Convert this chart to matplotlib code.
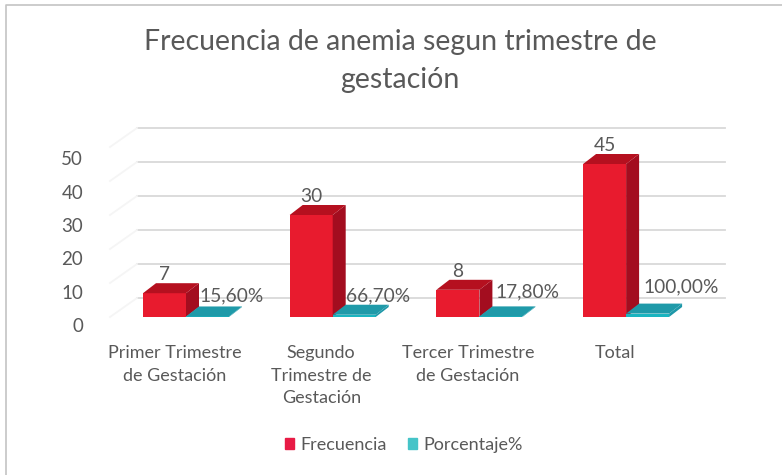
import numpy as np
import matplotlib
matplotlib.use("Agg")
import matplotlib.pyplot as plt
from matplotlib.lines import Line2D
from matplotlib.patches import Patch

plt.rcParams['font.family'] = ['Lato', 'DejaVu Sans']

titulo = "Frecuencia de anemia segun trimestre de\ngestación"
categorias = ["Primer Trimestre\nde Gestación", "Segundo\nTrimestre de\nGestación",
              "Tercer Trimestre\nde Gestación", "Total"]
frecuencia = [7, 30, 8, 45]
porcentaje = [0.156, 0.667, 0.178, 1.0]
etiquetas_pct = ["15,60%", "66,70%", "17,80%", "100,00%"]
eje_y = [0, 10, 20, 30, 40, 50]
rejilla = [0, 10, 20, 30, 40, 50, 60]

GRIS = "#595959"
W, H = 782, 475
PX_X = 146.7   # px por categoria
PX_Y = 3.4     # px por unidad
ANCHO = 43 / PX_X
DX, DY = 13 / PX_X, 10 / PX_Y          # profundidad de cada barra
FONDO_X, FONDO_Y = 27 / PX_X, 19 / PX_Y  # pared del fondo


def barra_3d(ax, x, h, front, side, top):
    ax.bar(x, h, ANCHO, align='edge', color=front, zorder=3)
    ax.fill([x + ANCHO, x + ANCHO + DX, x + ANCHO + DX, x + ANCHO],
            [0, DY, h + DY, h], color=side, lw=0, zorder=3)
    ax.fill([x, x + DX, x + ANCHO + DX, x + ANCHO],
            [h, h + DY, h + DY, h], color=top, lw=0, zorder=3)


fig = plt.figure(figsize=(W / 100, H / 100), dpi=100)
# marco: solo arriba e izquierda
fig.add_artist(Line2D([6 / W, 6 / W, 1], [0, 1 - 5 / H, 1 - 5 / H], color='#c4c4c4', lw=1.2))

# y=0 cae en 317 px, primera barra empieza en 143 px
izq, der, arriba, abajo = 90, 730, 120, 328
ax = fig.add_axes([izq / W, 1 - abajo / H, (der - izq) / W, (abajo - arriba) / H])
ax.patch.set_alpha(0)
ax.set_xlim((izq - 143) / PX_X, (der - 143) / PX_X)
ax.set_ylim((317 - abajo) / PX_Y, (317 - arriba) / PX_Y)
for s in ax.spines.values():
    s.set_visible(False)

pos = np.arange(len(categorias))

# pared del fondo y lateral
borde = -6 / PX_X
for v in rejilla:
    ax.plot([borde, 582 / PX_X], [v + FONDO_Y] * 2, color='#d9d9d9', lw=1.3, zorder=1)
    ax.plot([borde - FONDO_X, borde], [v, v + FONDO_Y], color='#f5f5f5', lw=1.3, zorder=1)

for i, x in enumerate(pos):
    barra_3d(ax, x, frecuencia[i], '#e81b2e', '#a30d1f', '#b5101f')
    barra_3d(ax, x + ANCHO, porcentaje[i], '#1ab5c0', '#1d97a8', '#1f9aa9')

# etiquetas de datos
for i, x in enumerate(pos):
    ax.annotate(str(frecuencia[i]), (x + ANCHO / 2, frecuencia[i]), xytext=(0, 13.5),
                textcoords='offset points', ha='center', va='center', color=GRIS, fontsize=13.8)
despl_pct = [(8, 15), (8, 15), (9.5, 18), (15, 22)]
for i, x in enumerate(pos):
    ax.annotate(etiquetas_pct[i], (x + ANCHO * 1.5 + DX, 0), xytext=despl_pct[i],
                textcoords='offset points', ha='center', va='center', color=GRIS, fontsize=13.8)

ax.set_xticks(pos + ANCHO / 2 + 10 / PX_X, categorias, color=GRIS, fontsize=13, linespacing=1.5)
ax.set_yticks(np.array(eje_y) * 0.982 - 2.4, [str(v) for v in eje_y], color=GRIS, fontsize=13.5)
ax.tick_params(length=0)
ax.tick_params(axis='x', pad=12.5)
ax.tick_params(axis='y', pad=5)

fig.text(400 / W, 1 - 61 / H, titulo, ha='center', va='center', color=GRIS, fontsize=20.5, linespacing=1.54)

fig.legend(handles=[Patch(color='#e81b45', label='Frecuencia'), Patch(color='#45c4c8', label='Porcentaje%')],
           loc='center', bbox_to_anchor=(404 / W, 1 - 445 / H), ncol=2, frameon=False,
           labelcolor=GRIS, fontsize=13, handlelength=0.5, handleheight=0.5,
           handletextpad=0.35, columnspacing=1.2)

fig.savefig("out.png", dpi=100)
